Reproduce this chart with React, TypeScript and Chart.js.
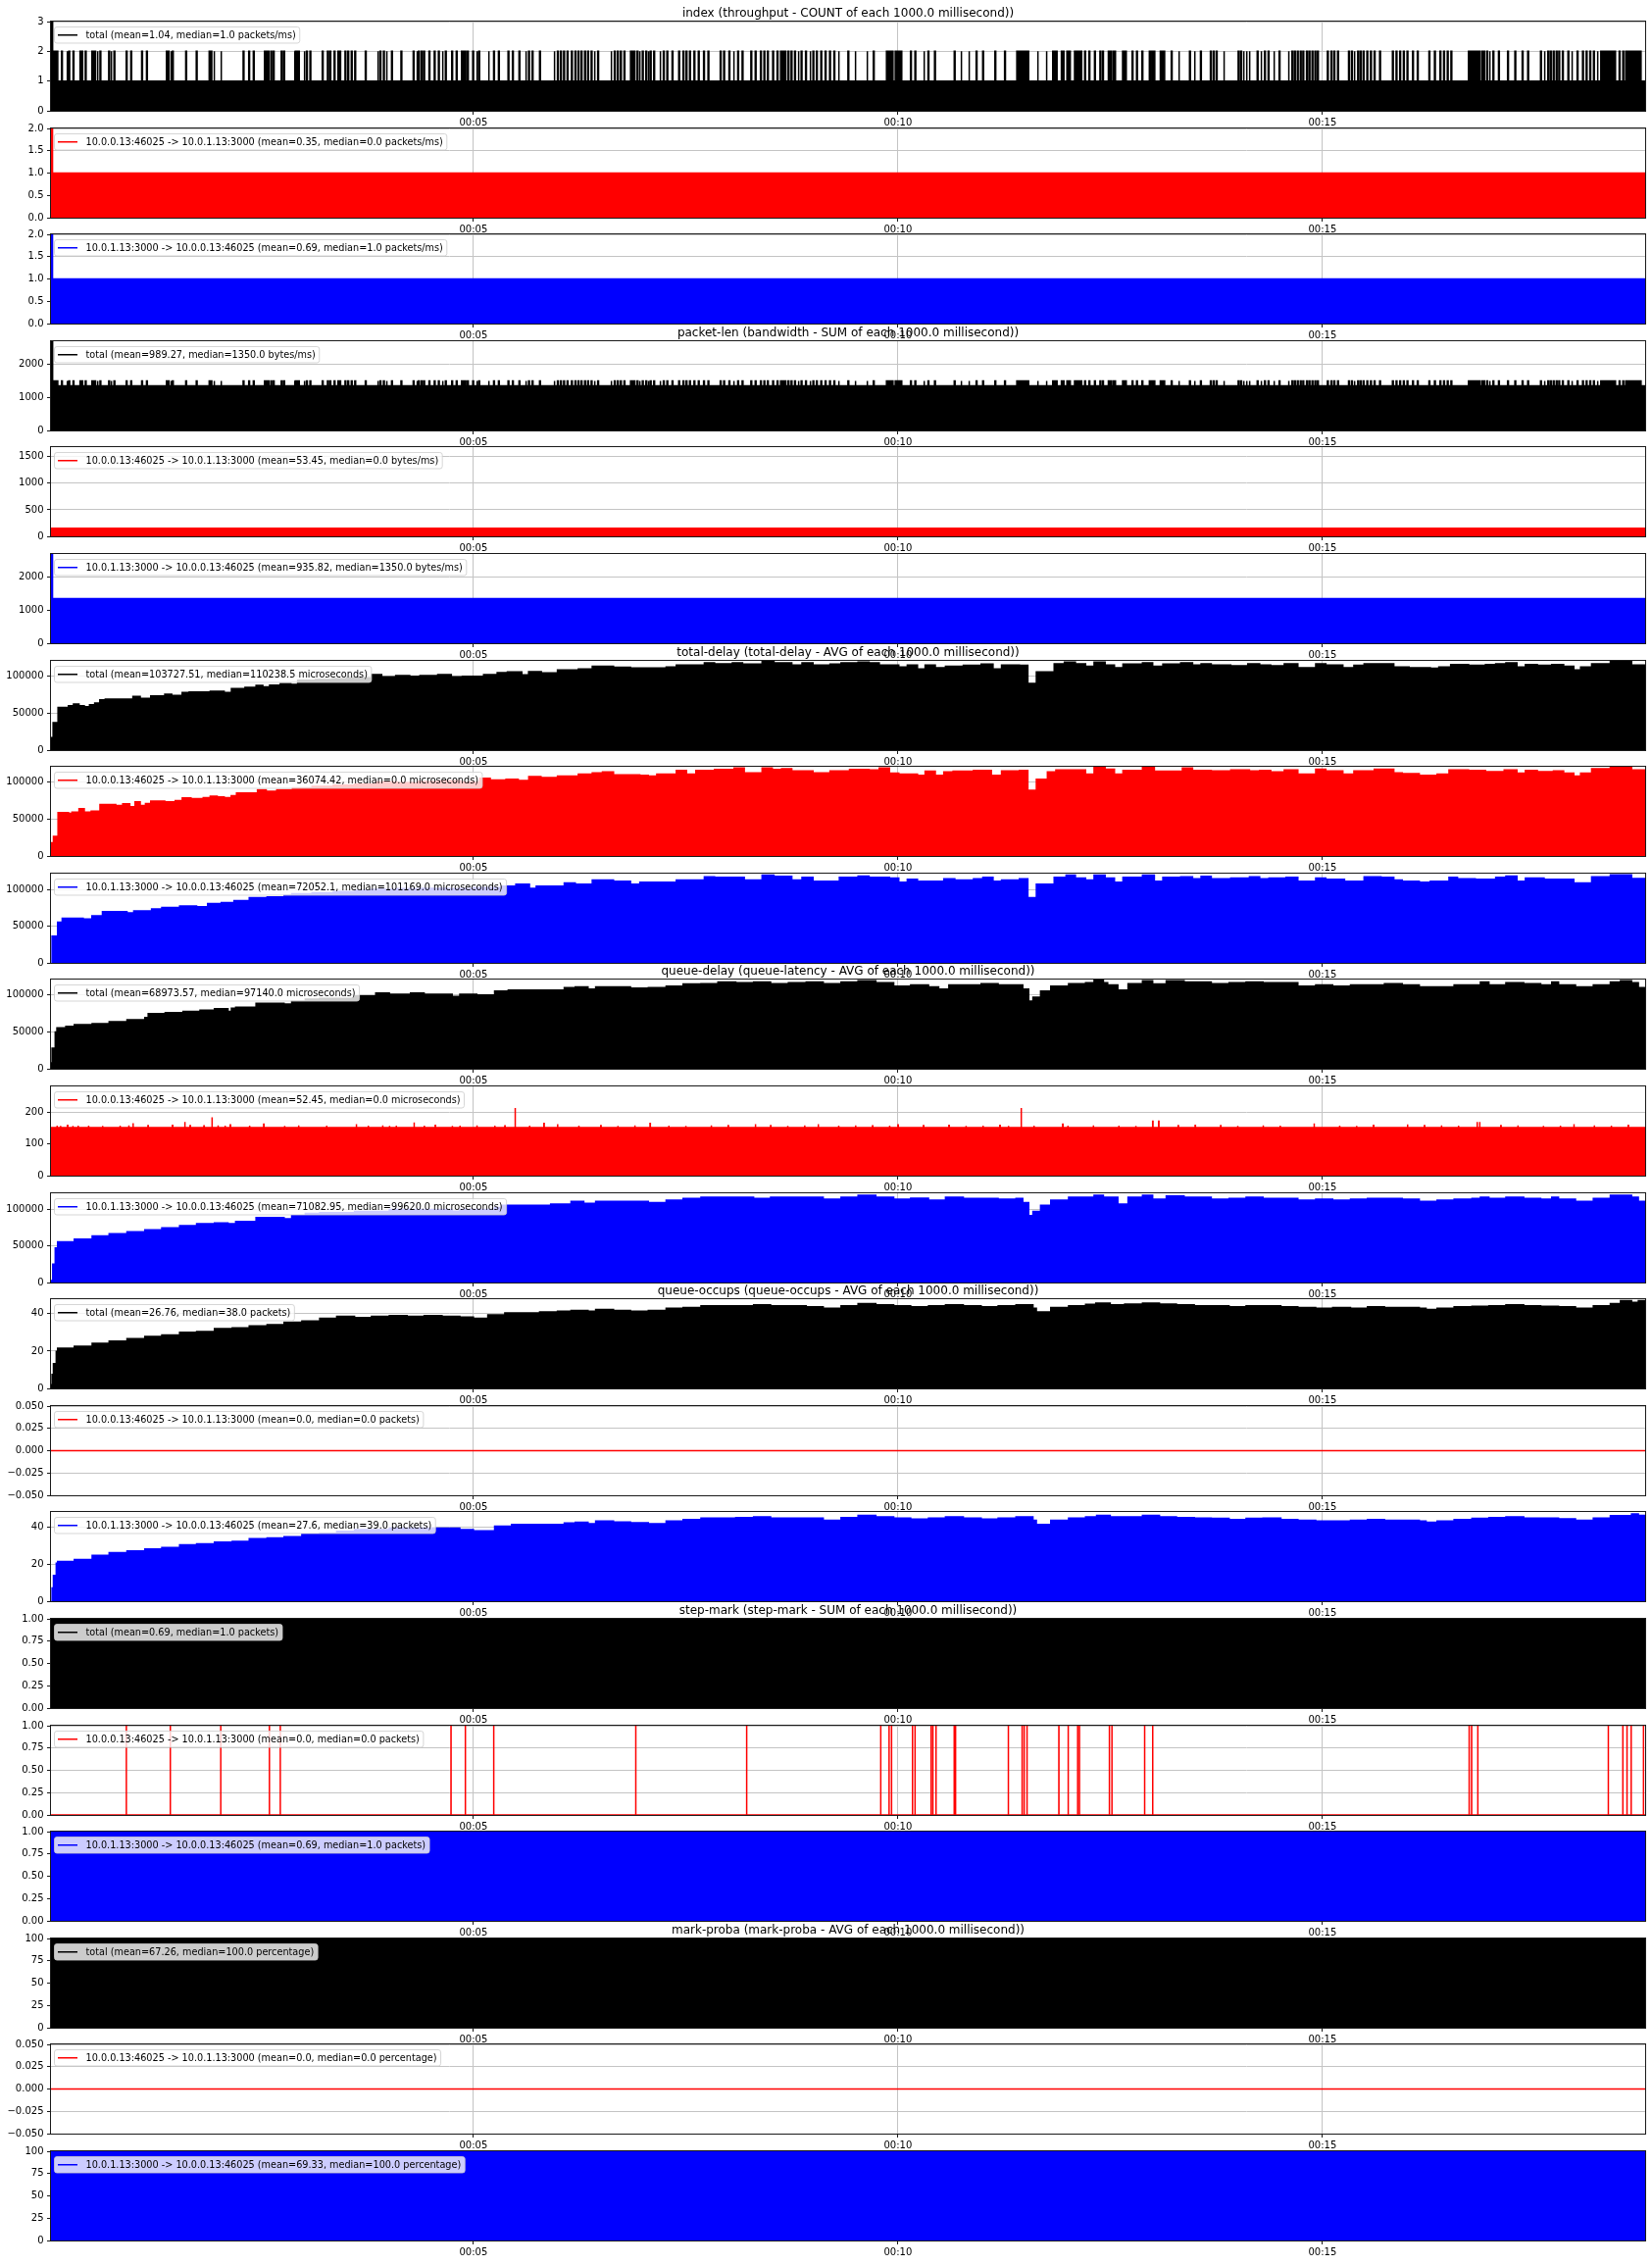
import React, { useEffect, useRef } from "react";
import { Chart, registerables } from "chart.js";

Chart.register(...registerables);
Chart.defaults.font.family = '"DejaVu Sans", sans-serif';
Chart.defaults.font.size = 10;
Chart.defaults.color = "#000";

// ---------------- data (seconds on x) ----------------
const X_MIN = 0.025;
const X_MAX = 18.8;
const X_TICK_VALUES = [5, 10, 15];
const X_TICK_LABELS = ["00:05", "00:10", "00:15"];

const TITLES = [
  "index (throughput - COUNT of each 1000.0 millisecond))",
  "packet-len (bandwidth - SUM of each 1000.0 millisecond))",
  "total-delay (total-delay - AVG of each 1000.0 millisecond))",
  "queue-delay (queue-latency - AVG of each 1000.0 millisecond))",
  "queue-occups (queue-occups - AVG of each 1000.0 millisecond))",
  "step-mark (step-mark - SUM of each 1000.0 millisecond))",
  "mark-proba (mark-proba - AVG of each 1000.0 millisecond))",
];

const LEGENDS = [
  "total (mean=1.04, median=1.0 packets/ms)",
  "10.0.0.13:46025 -> 10.0.1.13:3000 (mean=0.35, median=0.0 packets/ms)",
  "10.0.1.13:3000 -> 10.0.0.13:46025 (mean=0.69, median=1.0 packets/ms)",
  "total (mean=989.27, median=1350.0 bytes/ms)",
  "10.0.0.13:46025 -> 10.0.1.13:3000 (mean=53.45, median=0.0 bytes/ms)",
  "10.0.1.13:3000 -> 10.0.0.13:46025 (mean=935.82, median=1350.0 bytes/ms)",
  "total (mean=103727.51, median=110238.5 microseconds)",
  "10.0.0.13:46025 -> 10.0.1.13:3000 (mean=36074.42, median=0.0 microseconds)",
  "10.0.1.13:3000 -> 10.0.0.13:46025 (mean=72052.1, median=101169.0 microseconds)",
  "total (mean=68973.57, median=97140.0 microseconds)",
  "10.0.0.13:46025 -> 10.0.1.13:3000 (mean=52.45, median=0.0 microseconds)",
  "10.0.1.13:3000 -> 10.0.0.13:46025 (mean=71082.95, median=99620.0 microseconds)",
  "total (mean=26.76, median=38.0 packets)",
  "10.0.0.13:46025 -> 10.0.1.13:3000 (mean=0.0, median=0.0 packets)",
  "10.0.1.13:3000 -> 10.0.0.13:46025 (mean=27.6, median=39.0 packets)",
  "total (mean=0.69, median=1.0 packets)",
  "10.0.0.13:46025 -> 10.0.1.13:3000 (mean=0.0, median=0.0 packets)",
  "10.0.1.13:3000 -> 10.0.0.13:46025 (mean=0.69, median=1.0 packets)",
  "total (mean=67.26, median=100.0 percentage)",
  "10.0.0.13:46025 -> 10.0.1.13:3000 (mean=0.0, median=0.0 percentage)",
  "10.0.1.13:3000 -> 10.0.0.13:46025 (mean=69.33, median=100.0 percentage)",
];

// index: 1 ms bins with 2 packets (single spikes / solid runs)
const COUNT_SPIKES = [
  0.149, 0.211, 0.235, 0.285, 0.367, 0.388, 0.429, 0.507, 0.524, 0.54, 0.569, 0.602, 0.705, 0.73, 0.767, 0.911, 0.965,
  1.093, 1.15, 1.385, 1.406, 1.435, 1.455, 1.612, 1.736, 1.888, 1.909, 1.942, 2.024, 2.288, 2.354, 2.408, 2.54, 2.56,
  2.581, 2.614, 2.643, 2.737, 2.766, 2.89, 2.902, 2.923, 2.939, 3.005, 3.034, 3.075, 3.22, 3.281, 3.31, 3.36, 3.405,
  3.426, 3.488, 3.521, 3.562, 3.603, 3.727, 3.871, 3.9, 3.941, 3.974, 4.036, 4.147, 4.291, 4.332, 4.353, 4.386, 4.415,
  4.477, 4.539, 4.588, 4.633, 4.67, 4.745, 4.798, 4.86, 4.881, 4.901, 4.93, 4.992, 5.037, 5.063, 5.176, 5.238, 5.295,
  5.408, 5.46, 5.537, 5.614, 5.65, 5.692, 5.779, 5.949, 5.99, 6.026, 6.063, 6.104, 6.155, 6.197, 6.233, 6.269, 6.31,
  6.346, 6.387, 6.423, 6.464, 6.619, 6.66, 6.696, 6.732, 6.774, 6.851, 6.928, 6.954, 6.99, 7.031, 7.057, 7.083, 7.124,
  7.196, 7.237, 7.279, 7.34, 7.418, 7.469, 7.505, 7.546, 7.598, 7.649, 7.711, 7.763, 7.907, 7.948, 8.01, 8.062, 8.113,
  8.165, 8.268, 8.319, 8.381, 8.422, 8.463, 8.525, 8.577, 8.706, 8.742, 8.783, 8.824, 8.86, 8.912, 8.963, 8.999, 9.04,
  9.092, 9.143, 9.195, 9.246, 9.298, 9.411, 9.494, 9.633, 9.71, 10.148, 10.2, 10.303, 10.354, 10.431, 10.663, 10.741,
  10.833, 10.921, 10.998, 11.142, 11.256, 11.642, 11.745, 12.199, 12.25, 12.315, 12.379, 12.41, 12.478, 12.5, 12.53,
  12.552, 12.758, 12.81, 12.874, 12.961, 13.219, 13.305, 13.434, 13.49, 13.563, 13.68, 13.714, 13.749, 13.835, 14.007,
  14.037, 14.067, 14.102, 14.136, 14.231, 14.274, 14.317, 14.36, 14.425, 14.489, 14.597, 14.64, 14.67, 14.704, 14.739,
  14.769, 14.812, 14.842, 14.877, 14.911, 14.941, 15.058, 15.101, 15.135, 15.178, 15.307, 15.342, 15.372, 15.415,
  15.445, 15.479, 15.523, 15.566, 15.609, 15.673, 15.824, 15.867, 15.91, 15.953, 15.996, 16.061, 16.117, 16.254,
  16.319, 16.384, 16.427, 16.47, 16.513, 16.879, 16.9, 16.935, 16.965, 17.008, 17.073, 17.18, 17.266, 17.352, 17.417,
  17.568, 17.611, 17.654, 17.684, 17.718, 17.753, 17.783, 17.826, 17.891, 17.934, 17.999, 18.063, 18.106, 18.149,
  18.192, 18.235, 18.494, 18.537,
];
const COUNT_BLOCKS: [number, number][] = [
  [0.045, 0.105], [6.877, 6.902], [8.618, 8.68], [9.865, 9.942], [9.968, 10.045], [11.4, 11.539], [11.823, 11.874],
  [11.925, 11.955], [11.99, 12.03], [12.08, 12.12], [12.135, 12.164], [12.646, 12.689], [12.982, 13.025],
  [13.09, 13.141], [16.72, 16.857], [18.278, 18.451], [18.571, 18.752],
];
const COUNT_BASE = 1;
const COUNT_PAIR = 2;
const COUNT_START_PEAK = 3;
const COUNT_RED_BASE = 1;
const COUNT_RED_START_PEAK = 2;
const COUNT_BLUE_BASE = 1;
const COUNT_BLUE_START_PEAK = 2;

const BYTES_TOTAL_BASE = 1350;
const BYTES_TOTAL_PAIR = 1500;
const BYTES_TOTAL_START_PEAK = 2700;
const BYTES_RED_BASE = 152;
const BYTES_BLUE_BASE = 1350;
const BYTES_BLUE_START_PEAK = 2700;

// [time s, value] step profiles
const TOTAL_DELAY_TOTAL: [number, number][] = [
  [0.025, 16900], [0.05, 37200], [0.108, 58000], [0.23, 60300], [0.29, 62500], [0.355, 60300], [0.417, 59000],
  [0.479, 61500], [0.54, 63800], [0.6, 68300], [0.664, 69100], [0.99, 72700], [1.076, 70100], [1.2, 73600],
  [1.365, 75800], [1.447, 74000], [1.57, 78000], [1.653, 78800], [1.9, 79800], [2.065, 78000], [2.15, 83300],
  [2.31, 85000], [2.44, 87800], [2.52, 85600], [2.6, 88200], [2.725, 90000], [2.85, 89100], [2.93, 94800],
  [3.14, 95700], [3.34, 96600], [3.51, 98000], [3.8, 102400], [3.92, 99300], [4.085, 101000], [4.25, 100100],
  [4.37, 101000], [4.58, 102400], [4.74, 99300], [4.87, 100100], [5.12, 102400], [5.28, 105000], [5.4, 106000],
  [5.57, 102000], [5.65, 106500], [5.8, 104700], [5.99, 108800], [6.236, 110000], [6.4, 113800], [6.65, 112200],
  [6.85, 111400], [7.27, 112700], [7.39, 115500], [7.72, 118200], [7.84, 117100], [8.05, 118200], [8.17, 116600],
  [8.4, 121000], [8.54, 118200], [8.75, 115500], [8.87, 118200], [9.0, 115500], [9.2, 116600], [9.33, 118200],
  [9.53, 119300], [9.66, 118200], [9.78, 115500], [10.01, 112700], [10.11, 115500], [10.23, 110000], [10.32, 115500],
  [10.44, 111600], [10.56, 113800], [10.77, 114900], [10.98, 116600], [11.12, 110000], [11.22, 115500],
  [11.43, 114900], [11.53, 90500], [11.63, 106000], [11.84, 117100], [11.96, 119300], [12.09, 117100],
  [12.21, 113800], [12.31, 119300], [12.44, 115500], [12.55, 111600], [12.65, 116600], [12.88, 118200],
  [13.0, 113800], [13.12, 116600], [13.33, 118200], [13.47, 115500], [13.57, 117100], [13.69, 115500],
  [13.92, 114400], [14.12, 117100], [14.26, 115500], [14.39, 114400], [14.55, 117100], [14.71, 111600],
  [14.92, 117100], [15.04, 115500], [15.24, 111600], [15.37, 114900], [15.49, 117100], [15.84, 112700],
  [16.02, 111600], [16.27, 111000], [16.37, 112700], [16.51, 116000], [16.72, 114900], [16.92, 116000],
  [17.04, 117100], [17.16, 118200], [17.29, 112700], [17.39, 116000], [17.53, 114900], [17.7, 116000],
  [17.84, 113800], [17.96, 108800], [18.04, 112700], [18.17, 117100], [18.39, 121000], [18.64, 115500],
];
const TOTAL_DELAY_RED: [number, number][] = [
  [0.025, 17800], [0.054, 26700], [0.108, 58700], [0.231, 57800], [0.272, 59600], [0.355, 64000], [0.417, 59600],
  [0.499, 60900], [0.602, 69800], [0.788, 68500], [0.87, 70700], [0.953, 66700], [1.015, 73400], [1.076, 68500],
  [1.138, 71200], [1.2, 74300], [1.365, 73400], [1.488, 75200], [1.571, 78700], [1.674, 77800], [1.818, 79200],
  [1.9, 81000], [1.983, 80100], [2.065, 79200], [2.148, 81900], [2.21, 85400], [2.457, 89900], [2.56, 87600],
  [2.684, 89900], [2.869, 92500], [3.1, 94500], [3.35, 96000], [3.6, 97500], [3.85, 100500], [4.1, 99500],
  [4.35, 101000], [4.6, 102000], [4.85, 100500], [5.074, 105400], [5.198, 103200], [5.384, 104100], [5.528, 102300],
  [5.652, 107600], [5.796, 106300], [5.99, 108500], [6.236, 111100], [6.4, 112800], [6.52, 113900], [6.65, 110000],
  [6.96, 109500], [7.06, 108400], [7.16, 111100], [7.39, 116100], [7.51, 111100], [7.62, 116100], [7.84, 117200],
  [8.07, 119400], [8.19, 112800], [8.4, 119400], [8.52, 117200], [8.63, 118300], [8.75, 115500], [9.0, 112800],
  [9.2, 115500], [9.43, 117200], [9.66, 116600], [9.78, 119400], [9.9, 112200], [10.01, 111100], [10.23, 109500],
  [10.32, 115000], [10.44, 109500], [10.54, 113900], [10.65, 115000], [10.89, 116100], [11.1, 109500],
  [11.22, 115500], [11.43, 116100], [11.53, 89100], [11.63, 104000], [11.76, 113900], [11.86, 116600],
  [12.21, 111100], [12.31, 119900], [12.44, 117700], [12.55, 111100], [12.65, 116100], [12.88, 119900],
  [13.02, 115000], [13.35, 119400], [13.47, 116100], [13.69, 115500], [13.92, 116600], [14.14, 115500],
  [14.26, 116100], [14.39, 113900], [14.55, 116600], [14.71, 111100], [14.92, 117700], [15.04, 115500],
  [15.24, 111100], [15.37, 115500], [15.61, 117700], [15.84, 112800], [15.94, 111700], [16.14, 109500],
  [16.35, 111100], [16.49, 116600], [16.72, 116100], [16.92, 114400], [17.14, 116600], [17.29, 112200],
  [17.39, 116100], [17.53, 114400], [17.72, 115500], [17.84, 112200], [17.96, 108400], [18.04, 112200],
  [18.17, 118300], [18.39, 119900], [18.64, 116600],
];
const TOTAL_DELAY_BLUE: [number, number][] = [
  [0.038, 36400], [0.103, 55500], [0.157, 61100], [0.404, 59900], [0.507, 64400], [0.631, 70000], [0.92, 68300],
  [1.0, 71100], [1.21, 73900], [1.33, 75600], [1.54, 77900], [1.74, 76700], [1.87, 81200], [2.03, 82300],
  [2.18, 85100], [2.36, 89100], [2.57, 90200], [2.77, 92400], [2.86, 94500], [3.1, 96000], [3.35, 97500],
  [3.6, 99200], [3.8, 100500], [4.1, 101500], [4.4, 102000], [4.7, 101500], [5.0, 103000], [5.33, 104800],
  [5.5, 107600], [5.66, 102000], [5.74, 104800], [6.07, 109200], [6.2, 107600], [6.4, 113200], [6.65, 111500],
  [6.85, 107600], [6.96, 110400], [7.39, 113200], [7.72, 117600], [7.84, 117100], [8.19, 113200], [8.4, 119900],
  [8.54, 118200], [8.75, 113200], [8.87, 117100], [9.0, 111500], [9.31, 117100], [9.53, 118800], [9.66, 117100],
  [9.9, 116000], [10.01, 110400], [10.11, 114300], [10.23, 111500], [10.54, 114800], [10.67, 113200],
  [10.89, 114800], [11.0, 117100], [11.12, 111500], [11.22, 113200], [11.43, 114800], [11.53, 89100],
  [11.63, 107600], [11.84, 117100], [11.98, 119900], [12.09, 116000], [12.21, 113200], [12.31, 119900],
  [12.44, 116000], [12.55, 110400], [12.65, 117100], [12.88, 119900], [13.02, 111500], [13.12, 117100],
  [13.33, 117600], [13.47, 114800], [13.57, 118200], [13.69, 114800], [13.92, 116000], [14.14, 117600],
  [14.26, 114800], [14.37, 116000], [14.57, 117100], [14.71, 111500], [14.92, 116000], [15.04, 114300],
  [15.26, 111500], [15.49, 117600], [15.69, 117100], [15.84, 113200], [15.94, 111500], [16.14, 110400],
  [16.27, 111500], [16.49, 117100], [16.59, 114800], [16.8, 114300], [17.04, 117100], [17.16, 118800],
  [17.29, 111500], [17.39, 116000], [17.61, 114300], [17.96, 109200], [18.17, 117600], [18.39, 120400],
  [18.64, 115400],
];

const QUEUE_DELAY_TOTAL: [number, number][] = [
  [0.025, 8000], [0.038, 27800], [0.075, 50000], [0.095, 55500], [0.2, 57500], [0.3, 59900], [0.51, 61100],
  [0.71, 63800], [0.92, 66600], [1.13, 69400], [1.17, 74900], [1.37, 76000], [1.58, 77700], [1.78, 79400],
  [1.95, 81600], [2.11, 77700], [2.15, 82000], [2.2, 83300], [2.44, 88800], [2.77, 87700], [2.86, 91600],
  [3.02, 94400], [3.19, 95500], [3.6, 98800], [3.85, 102700], [4.01, 101000], [4.26, 102700], [4.42, 101000],
  [4.75, 98200], [4.84, 101000], [5.04, 99900], [5.25, 105500], [5.41, 106600], [5.87, 106600], [6.07, 109900],
  [6.2, 111000], [6.35, 108200], [6.44, 111000], [6.85, 109300], [7.06, 109900], [7.27, 112100], [7.47, 114900],
  [7.68, 115400], [7.88, 117700], [8.09, 116600], [8.3, 117700], [8.5, 115400], [8.71, 116600], [8.92, 117700],
  [9.12, 115400], [9.33, 117700], [9.53, 119300], [9.74, 116600], [9.95, 112100], [10.15, 113800], [10.36, 111000],
  [10.48, 108200], [10.6, 113800], [10.98, 115400], [11.18, 113800], [11.47, 108200], [11.54, 91600],
  [11.59, 97100], [11.68, 105500], [11.8, 112100], [12.01, 115400], [12.21, 116600], [12.31, 120400],
  [12.42, 116600], [12.47, 113800], [12.59, 106600], [12.71, 115400], [12.88, 119300], [13.0, 114900],
  [13.16, 119300], [13.37, 117700], [13.69, 115400], [13.9, 116600], [14.1, 117700], [14.3, 116600],
  [14.71, 112100], [14.92, 113800], [15.12, 112100], [15.33, 113800], [15.73, 115400], [15.94, 113800],
  [16.14, 111000], [16.55, 113800], [16.86, 117700], [16.96, 113800], [17.16, 116600], [17.37, 115400],
  [17.57, 113800], [17.7, 117700], [17.78, 113800], [17.98, 111000], [18.19, 113800], [18.39, 117700],
  [18.51, 119300], [18.64, 116600], [18.72, 110000],
];
const QUEUE_DELAY_RED_BASE = 152;
const QUEUE_DELAY_RED_PEAKS: [number, number][] = [
  [0.095, 158], [0.136, 157], [0.219, 159], [0.281, 157], [0.343, 158], [0.466, 158], [0.631, 157], [0.837, 158],
  [0.94, 159], [0.99, 166], [1.167, 158], [1.455, 159], [1.6, 170], [1.663, 158], [1.826, 157], [1.92, 184],
  [1.991, 159], [2.074, 158], [2.136, 160], [2.362, 158], [2.53, 163], [2.775, 157], [2.94, 159], [3.27, 158],
  [3.62, 163], [3.76, 158], [3.93, 159], [4.01, 157], [4.09, 158], [4.3, 168], [4.42, 158], [4.55, 159],
  [4.75, 157], [4.84, 158], [5.04, 159], [5.25, 158], [5.37, 157], [5.49, 214], [5.66, 158], [5.83, 165],
  [5.99, 163], [6.24, 158], [6.5, 158], [6.7, 157], [6.9, 159], [7.08, 165], [7.3, 158], [7.5, 157], [7.8, 159],
  [8.0, 158], [8.32, 163], [8.5, 158], [8.7, 157], [8.9, 159], [9.06, 163], [9.3, 158], [9.5, 159], [9.7, 157],
  [9.9, 158], [10.0, 160], [10.3, 158], [10.6, 159], [10.8, 157], [11.0, 158], [11.2, 159], [11.3, 157],
  [11.45, 214], [11.6, 158], [11.94, 163], [12.0, 158], [12.3, 159], [12.6, 158], [12.8, 157], [13.0, 172],
  [13.07, 172], [13.3, 158], [13.5, 159], [13.8, 158], [14.0, 157], [14.3, 159], [14.5, 158], [14.9, 165],
  [15.2, 158], [15.4, 157], [15.6, 159], [16.0, 162], [16.2, 158], [16.4, 159], [16.6, 158], [16.82, 170],
  [16.85, 170], [17.1, 158], [17.3, 159], [17.6, 157], [17.8, 158], [17.96, 163], [18.2, 159], [18.4, 158],
  [18.6, 159],
];
const QUEUE_DELAY_BLUE: [number, number][] = [
  [0.025, 2800], [0.046, 25000], [0.075, 47200], [0.103, 55500], [0.3, 59400], [0.51, 63800], [0.71, 66600],
  [0.92, 69400], [1.13, 72200], [1.33, 74900], [1.54, 77700], [1.74, 80500], [1.95, 81600], [2.11, 80500],
  [2.2, 83300], [2.44, 88800], [2.77, 87100], [2.86, 91600], [3.02, 94400], [3.19, 95500], [3.6, 97100],
  [4.01, 99900], [4.75, 97500], [4.84, 99900], [5.25, 102700], [5.33, 105500], [5.91, 107100], [6.15, 111000],
  [6.3, 108200], [6.44, 111000], [7.06, 109300], [7.27, 112700], [7.47, 114900], [7.68, 116600], [8.3, 114900],
  [8.5, 116600], [9.12, 113800], [9.33, 116600], [9.53, 119300], [9.74, 116600], [9.95, 113800], [10.15, 115400],
  [10.36, 112700], [10.56, 116600], [10.77, 114900], [11.18, 113800], [11.39, 114900], [11.47, 109300],
  [11.54, 91600], [11.59, 97100], [11.68, 105500], [11.8, 112700], [12.01, 116600], [12.31, 119300],
  [12.42, 116600], [12.59, 107100], [12.71, 116600], [12.88, 119300], [13.0, 113800], [13.16, 118200],
  [13.37, 116600], [13.69, 113800], [13.9, 114900], [14.1, 116600], [14.3, 114900], [14.71, 112700],
  [14.92, 113800], [15.12, 112700], [15.33, 113800], [15.53, 114900], [15.94, 113800], [16.14, 111000],
  [16.35, 112700], [16.55, 113800], [16.76, 114900], [16.86, 116600], [16.96, 114900], [17.16, 116600],
  [17.37, 114900], [17.57, 113800], [17.7, 116600], [17.78, 113800], [17.98, 111000], [18.19, 114900],
  [18.39, 119300], [18.64, 116600], [18.72, 111000],
];

const QUEUE_OCCUPS_TOTAL: [number, number][] = [
  [0.025, 2.0], [0.038, 7.5], [0.054, 13.2], [0.087, 19.8], [0.103, 21.6], [0.3, 22.6], [0.51, 24.1], [0.71, 25.4],
  [0.92, 26.7], [1.13, 27.9], [1.33, 28.6], [1.54, 30.1], [1.74, 30.5], [1.95, 32.0], [2.16, 32.4], [2.36, 33.5],
  [2.57, 34.2], [2.77, 35.4], [2.98, 36.1], [3.19, 37.6], [3.39, 38.6], [3.6, 38.0], [3.8, 38.6], [4.01, 39.0],
  [4.22, 38.6], [4.42, 39.0], [4.63, 38.6], [4.84, 38.2], [5.0, 37.6], [5.17, 39.4], [5.37, 40.5], [5.78, 41.0],
  [5.99, 41.4], [6.15, 41.8], [6.35, 41.4], [6.44, 42.3], [6.65, 41.8], [6.85, 41.4], [7.06, 41.8], [7.27, 42.9],
  [7.47, 43.3], [7.68, 44.2], [8.3, 44.8], [8.5, 44.2], [8.92, 43.7], [9.12, 42.9], [9.33, 44.2], [9.53, 45.5],
  [9.74, 44.8], [9.95, 44.2], [10.15, 43.7], [10.36, 44.2], [10.56, 44.8], [10.77, 44.2], [10.98, 43.7],
  [11.18, 44.2], [11.39, 44.8], [11.59, 42.9], [11.63, 41.0], [11.8, 43.3], [12.01, 44.2], [12.21, 45.1],
  [12.33, 45.7], [12.5, 44.8], [12.67, 45.2], [12.88, 45.7], [13.08, 45.2], [13.28, 44.8], [13.49, 44.2],
  [13.9, 43.7], [14.1, 44.2], [14.51, 43.7], [14.71, 43.3], [14.92, 42.9], [15.12, 43.3], [15.33, 42.9],
  [15.53, 43.7], [15.73, 43.3], [16.14, 42.9], [16.22, 42.3], [16.35, 42.9], [16.55, 43.7], [16.76, 44.0],
  [16.96, 44.2], [17.16, 44.8], [17.37, 44.2], [17.57, 44.0], [17.78, 43.7], [17.98, 42.9], [18.19, 44.2],
  [18.39, 45.5], [18.51, 47.0], [18.64, 46.1], [18.72, 47.0],
];
const QUEUE_OCCUPS_RED_LEVEL = 0;
const QUEUE_OCCUPS_BLUE: [number, number][] = [
  [0.038, 7.2], [0.054, 13.9], [0.087, 20.6], [0.103, 21.5], [0.3, 22.5], [0.51, 24.8], [0.71, 26.3], [0.92, 27.2],
  [1.13, 28.2], [1.33, 29.1], [1.54, 30.5], [1.74, 31.0], [1.95, 32.0], [2.16, 32.4], [2.36, 33.9], [2.57, 34.3],
  [2.77, 34.9], [2.98, 36.2], [3.19, 36.8], [3.39, 37.8], [3.6, 38.7], [4.01, 39.6], [4.84, 38.7], [5.0, 38.1],
  [5.25, 40.6], [5.45, 41.5], [6.07, 42.3], [6.2, 42.7], [6.35, 41.9], [6.44, 43.4], [6.65, 42.9], [6.85, 42.5],
  [7.06, 41.9], [7.27, 43.4], [7.47, 44.2], [7.68, 45.0], [8.09, 45.3], [8.3, 45.7], [8.5, 45.0], [9.12, 43.8],
  [9.33, 45.3], [9.53, 46.5], [9.74, 45.7], [9.95, 45.0], [10.15, 44.4], [10.36, 45.0], [10.56, 45.7],
  [10.77, 45.0], [10.98, 44.4], [11.18, 45.0], [11.39, 45.7], [11.59, 43.8], [11.63, 41.5], [11.8, 43.8],
  [12.01, 45.0], [12.21, 45.7], [12.34, 46.5], [12.5, 45.7], [12.88, 46.5], [13.08, 45.7], [13.28, 45.3],
  [13.49, 45.0], [13.69, 44.8], [13.9, 44.2], [14.1, 44.8], [14.3, 45.0], [14.51, 44.2], [14.71, 43.8],
  [14.92, 43.4], [15.33, 43.8], [15.53, 44.2], [15.73, 43.8], [16.14, 43.4], [16.22, 42.7], [16.35, 43.4],
  [16.55, 44.2], [16.76, 44.8], [16.96, 45.3], [17.16, 45.7], [17.37, 45.0], [17.78, 44.6], [17.98, 43.8],
  [18.19, 45.0], [18.39, 46.3], [18.64, 47.2], [18.72, 46.5],
];

const STEP_MARK_TOTAL_LEVEL = 1;
const STEP_MARK_RED_SPIKES = [
  0.912, 1.43, 2.024, 2.597, 2.725, 4.736, 4.905, 5.239, 6.912, 8.218, 9.797, 9.895, 9.924, 10.171, 10.201, 10.39,
  10.411, 10.448, 10.662, 10.678, 11.3, 11.462, 11.486, 11.52, 11.895, 12.005, 12.116, 12.137, 12.49, 12.52, 12.905,
  13.0, 16.727, 16.756, 16.829, 18.366, 18.537, 18.586, 18.635, 18.78,
];
const STEP_MARK_BLUE_LEVEL = 1;
const MARK_PROBA_TOTAL_LEVEL = 100;
const MARK_PROBA_RED_LEVEL = 0;
const MARK_PROBA_BLUE_LEVEL = 100;

// y axes: [min, max], tick values, tick labels
const Y_COUNT3 = { min: 0, max: 3, ticks: [0, 1, 2, 3], labels: ["0", "1", "2", "3"] };
const Y_COUNT2 = { min: 0, max: 2, ticks: [0, 0.5, 1, 1.5, 2], labels: ["0.0", "0.5", "1.0", "1.5", "2.0"] };
const Y_BYTES = { min: 0, max: 2700, ticks: [0, 1000, 2000], labels: ["0", "1000", "2000"] };
const Y_BYTES_RED = { min: 0, max: 1680, ticks: [0, 500, 1000, 1500], labels: ["0", "500", "1000", "1500"] };
const Y_DELAY_LABELS = { ticks: [0, 50000, 100000], labels: ["0", "50000", "100000"] };
const Y_DELAY_TOTAL = { min: 0, max: 121000, ...Y_DELAY_LABELS };
const Y_DELAY_RED = { min: 0, max: 121000, ...Y_DELAY_LABELS };
const Y_DELAY_BLUE = { min: 0, max: 122000, ...Y_DELAY_LABELS };
const Y_QDELAY_TOTAL = { min: 0, max: 121000, ...Y_DELAY_LABELS };
const Y_QDELAY_RED = { min: 0, max: 282, ticks: [0, 100, 200], labels: ["0", "100", "200"] };
const Y_QDELAY_BLUE = { min: 0, max: 122000, ...Y_DELAY_LABELS };
const Y_OCC_TOTAL = { min: 0, max: 47.8, ticks: [0, 20, 40], labels: ["0", "20", "40"] };
const Y_OCC_BLUE = { min: 0, max: 48.3, ticks: [0, 20, 40], labels: ["0", "20", "40"] };
const Y_ZERO = {
  min: -0.05, max: 0.05, ticks: [-0.05, -0.025, 0, 0.025, 0.05],
  labels: ["\u22120.050", "\u22120.025", "0.000", "0.025", "0.050"],
};
const Y_UNIT = { min: 0, max: 1, ticks: [0, 0.25, 0.5, 0.75, 1], labels: ["0.00", "0.25", "0.50", "0.75", "1.00"] };
const Y_PCT = { min: 0, max: 100, ticks: [0, 25, 50, 75, 100], labels: ["0", "25", "50", "75", "100"] };

// ---------------- styles / layout ----------------
const BLACK = "#000000";
const RED = "#ff0000";
const BLUE = "#0000ff";
const GRID = "#c4c4c4";
const FIG_W = 1685;
const FIG_H = 2310;
const AX_LEFT = 52;
const AX_RIGHT_PAD = 7;
const AX_H = 91;
const PAD_TOP = 22;
const PAD_BOTTOM = 22;
const FIRST_TOP = 22;
const PITCH = 108.6;
const SPIKE_W = 0.01;
const THIN_W = 0.001;

type Pt = { x: number; y: number };
type Pulse = [number, number, number];

function pulseSeries(base: number, pulses: Pulse[]): Pt[] {
  const sorted = pulses.slice().sort((a, b) => a[0] - b[0]);
  const pts: Pt[] = [{ x: X_MIN, y: base }];
  for (const [t0, t1, v] of sorted) {
    pts.push({ x: t0, y: base }, { x: t0, y: v }, { x: t1, y: v }, { x: t1, y: base });
  }
  pts.push({ x: X_MAX, y: base });
  return pts;
}

function stepSeries(profile: [number, number][]): Pt[] {
  const pts: Pt[] = [{ x: profile[0][0], y: 0 }];
  profile.forEach(([t, v], i) => {
    const t2 = i + 1 < profile.length ? profile[i + 1][0] : X_MAX;
    pts.push({ x: t, y: v }, { x: t2, y: v });
  });
  return pts;
}

function countPulses(level: number, startPeak: number): Pulse[] {
  return [
    [X_MIN, X_MIN + 0.018, startPeak] as Pulse,
    ...COUNT_BLOCKS.map(([a, b]) => [a, b, level] as Pulse),
    ...COUNT_SPIKES.map((t) => [t, t + SPIKE_W, level] as Pulse),
  ];
}

type YAxis = { min: number; max: number; ticks: number[]; labels: string[] };
type PanelSpec = { title?: string; legend: string; color: string; points: Pt[]; fill: boolean; y: YAxis };

const PANELS: PanelSpec[] = [
  { title: TITLES[0], legend: LEGENDS[0], color: BLACK, fill: true, y: Y_COUNT3,
    points: pulseSeries(COUNT_BASE, countPulses(COUNT_PAIR, COUNT_START_PEAK)) },
  { legend: LEGENDS[1], color: RED, fill: true, y: Y_COUNT2,
    points: pulseSeries(COUNT_RED_BASE, [[X_MIN, X_MIN + 0.018, COUNT_RED_START_PEAK]]) },
  { legend: LEGENDS[2], color: BLUE, fill: true, y: Y_COUNT2,
    points: pulseSeries(COUNT_BLUE_BASE, [[X_MIN, X_MIN + 0.018, COUNT_BLUE_START_PEAK]]) },
  { title: TITLES[1], legend: LEGENDS[3], color: BLACK, fill: true, y: Y_BYTES,
    points: pulseSeries(BYTES_TOTAL_BASE, countPulses(BYTES_TOTAL_PAIR, BYTES_TOTAL_START_PEAK)) },
  { legend: LEGENDS[4], color: RED, fill: true, y: Y_BYTES_RED, points: pulseSeries(BYTES_RED_BASE, []) },
  { legend: LEGENDS[5], color: BLUE, fill: true, y: Y_BYTES,
    points: pulseSeries(BYTES_BLUE_BASE, [[X_MIN, X_MIN + 0.018, BYTES_BLUE_START_PEAK]]) },
  { title: TITLES[2], legend: LEGENDS[6], color: BLACK, fill: true, y: Y_DELAY_TOTAL, points: stepSeries(TOTAL_DELAY_TOTAL) },
  { legend: LEGENDS[7], color: RED, fill: true, y: Y_DELAY_RED, points: stepSeries(TOTAL_DELAY_RED) },
  { legend: LEGENDS[8], color: BLUE, fill: true, y: Y_DELAY_BLUE, points: stepSeries(TOTAL_DELAY_BLUE) },
  { title: TITLES[3], legend: LEGENDS[9], color: BLACK, fill: true, y: Y_QDELAY_TOTAL, points: stepSeries(QUEUE_DELAY_TOTAL) },
  { legend: LEGENDS[10], color: RED, fill: true, y: Y_QDELAY_RED,
    points: pulseSeries(QUEUE_DELAY_RED_BASE, QUEUE_DELAY_RED_PEAKS.map(([t, v]) => [t, t + 0.004, v] as Pulse)) },
  { legend: LEGENDS[11], color: BLUE, fill: true, y: Y_QDELAY_BLUE, points: stepSeries(QUEUE_DELAY_BLUE) },
  { title: TITLES[4], legend: LEGENDS[12], color: BLACK, fill: true, y: Y_OCC_TOTAL, points: stepSeries(QUEUE_OCCUPS_TOTAL) },
  { legend: LEGENDS[13], color: RED, fill: false, y: Y_ZERO, points: pulseSeries(QUEUE_OCCUPS_RED_LEVEL, []) },
  { legend: LEGENDS[14], color: BLUE, fill: true, y: Y_OCC_BLUE, points: stepSeries(QUEUE_OCCUPS_BLUE) },
  { title: TITLES[5], legend: LEGENDS[15], color: BLACK, fill: true, y: Y_UNIT, points: pulseSeries(STEP_MARK_TOTAL_LEVEL, []) },
  { legend: LEGENDS[16], color: RED, fill: false, y: Y_UNIT,
    points: pulseSeries(0, STEP_MARK_RED_SPIKES.map((t) => [t, t + THIN_W, 1] as Pulse)) },
  { legend: LEGENDS[17], color: BLUE, fill: true, y: Y_UNIT, points: pulseSeries(STEP_MARK_BLUE_LEVEL, []) },
  { title: TITLES[6], legend: LEGENDS[18], color: BLACK, fill: true, y: Y_PCT, points: pulseSeries(MARK_PROBA_TOTAL_LEVEL, []) },
  { legend: LEGENDS[19], color: RED, fill: false, y: Y_ZERO, points: pulseSeries(MARK_PROBA_RED_LEVEL, []) },
  { legend: LEGENDS[20], color: BLUE, fill: true, y: Y_PCT, points: pulseSeries(MARK_PROBA_BLUE_LEVEL, []) },
];

const CANVAS_H = PAD_TOP + AX_H + PAD_BOTTOM;

function makeOverlay(spec: PanelSpec) {
  return {
    id: "mplOverlay",
    afterDraw(chart: any) {
      const { ctx, chartArea } = chart;
      const { left, right, top, bottom } = chartArea;
      ctx.save();
      // frame (spines)
      ctx.strokeStyle = "#1a1a1a";
      ctx.lineWidth = 1;
      ctx.strokeRect(left - 0.5, top - 0.5, right - left + 1, bottom - top + 1);
      // title
      if (spec.title) {
        ctx.fillStyle = "#000";
        ctx.font = '12px "DejaVu Sans"';
        ctx.textAlign = "center";
        ctx.textBaseline = "alphabetic";
        ctx.fillText(spec.title, (left + right) / 2, top - 5);
      }
      // legend
      ctx.font = '9.7px "DejaVu Sans"';
      const tw = ctx.measureText(spec.legend).width;
      const bx = left + 3.5;
      const by = top + 5.5;
      const bw = 32 + tw + 4;
      const bh = 16.5;
      ctx.beginPath();
      ctx.roundRect(bx, by, bw, bh, 2.5);
      ctx.fillStyle = "rgba(255,255,255,0.8)";
      ctx.fill();
      ctx.strokeStyle = "rgba(204,204,204,0.8)";
      ctx.lineWidth = 1;
      ctx.stroke();
      const cy = by + bh / 2;
      ctx.beginPath();
      ctx.moveTo(bx + 3.5, cy);
      ctx.lineTo(bx + 23.5, cy);
      ctx.strokeStyle = spec.color;
      ctx.lineWidth = 1.5;
      ctx.stroke();
      ctx.fillStyle = "#000";
      ctx.textAlign = "left";
      ctx.textBaseline = "middle";
      ctx.fillText(spec.legend, bx + 32, cy + 0.5);
      ctx.restore();
    },
  };
}

function PanelChart({ spec, top }: { spec: PanelSpec; top: number }) {
  const ref = useRef<HTMLCanvasElement>(null);
  useEffect(() => {
    const canvas = ref.current;
    if (!canvas) return;
    const chart = new Chart(canvas, {
      type: "line",
      data: {
        datasets: [
          {
            data: spec.points as any,
            borderColor: spec.color,
            backgroundColor: spec.color,
            borderWidth: 1.5,
            pointRadius: 0,
            tension: 0,
            fill: spec.fill ? "origin" : false,
            clip: 0 as any,
          },
        ],
      },
      options: {
        animation: false,
        responsive: false,
        maintainAspectRatio: false,
        devicePixelRatio: 1,
        events: [],
        layout: { padding: { top: PAD_TOP, right: AX_RIGHT_PAD, left: 0, bottom: 0 } },
        plugins: { legend: { display: false }, tooltip: { enabled: false }, title: { display: false } },
        scales: {
          x: {
            type: "linear",
            min: X_MIN,
            max: X_MAX,
            afterBuildTicks: (axis: any) => {
              axis.ticks = X_TICK_VALUES.map((v) => ({ value: v }));
            },
            afterFit: (axis: any) => {
              axis.height = PAD_BOTTOM;
            },
            ticks: {
              autoSkip: false,
              maxRotation: 0,
              padding: 2,
              color: "#000",
              font: { size: 10 },
              callback: (v: any) => X_TICK_LABELS[X_TICK_VALUES.indexOf(Number(v))] ?? "",
            },
            grid: { color: GRID, lineWidth: 1, tickColor: "#1a1a1a", tickLength: 4, tickWidth: 1 },
            border: { display: false },
          },
          y: {
            type: "linear",
            min: spec.y.min,
            max: spec.y.max,
            afterBuildTicks: (axis: any) => {
              axis.ticks = spec.y.ticks.map((v) => ({ value: v }));
            },
            afterFit: (axis: any) => {
              axis.width = AX_LEFT;
            },
            ticks: {
              autoSkip: false,
              padding: 3.5,
              color: "#000",
              font: { size: 10 },
              callback: (v: any) => {
                const i = spec.y.ticks.findIndex((t) => Math.abs(t - Number(v)) < 1e-9);
                return i >= 0 ? spec.y.labels[i] : "";
              },
            },
            grid: { color: GRID, lineWidth: 1, tickColor: "#1a1a1a", tickLength: 4, tickWidth: 1 },
            border: { display: false },
          },
        },
      },
      plugins: [makeOverlay(spec)],
    } as any);
    return () => chart.destroy();
  }, [spec]);
  return (
    <canvas
      ref={ref}
      width={FIG_W}
      height={CANVAS_H}
      style={{ position: "absolute", left: 0, top: top - PAD_TOP, width: FIG_W, height: CANVAS_H }}
    />
  );
}

export default function App() {
  return (
    <div style={{ position: "absolute", left: 0, top: 0, width: FIG_W, height: FIG_H, background: "#fff", overflow: "hidden" }}>
      {PANELS.map((p, i) => (
        <PanelChart key={i} spec={p} top={Math.round(FIRST_TOP + PITCH * i)} />
      ))}
    </div>
  );
}
